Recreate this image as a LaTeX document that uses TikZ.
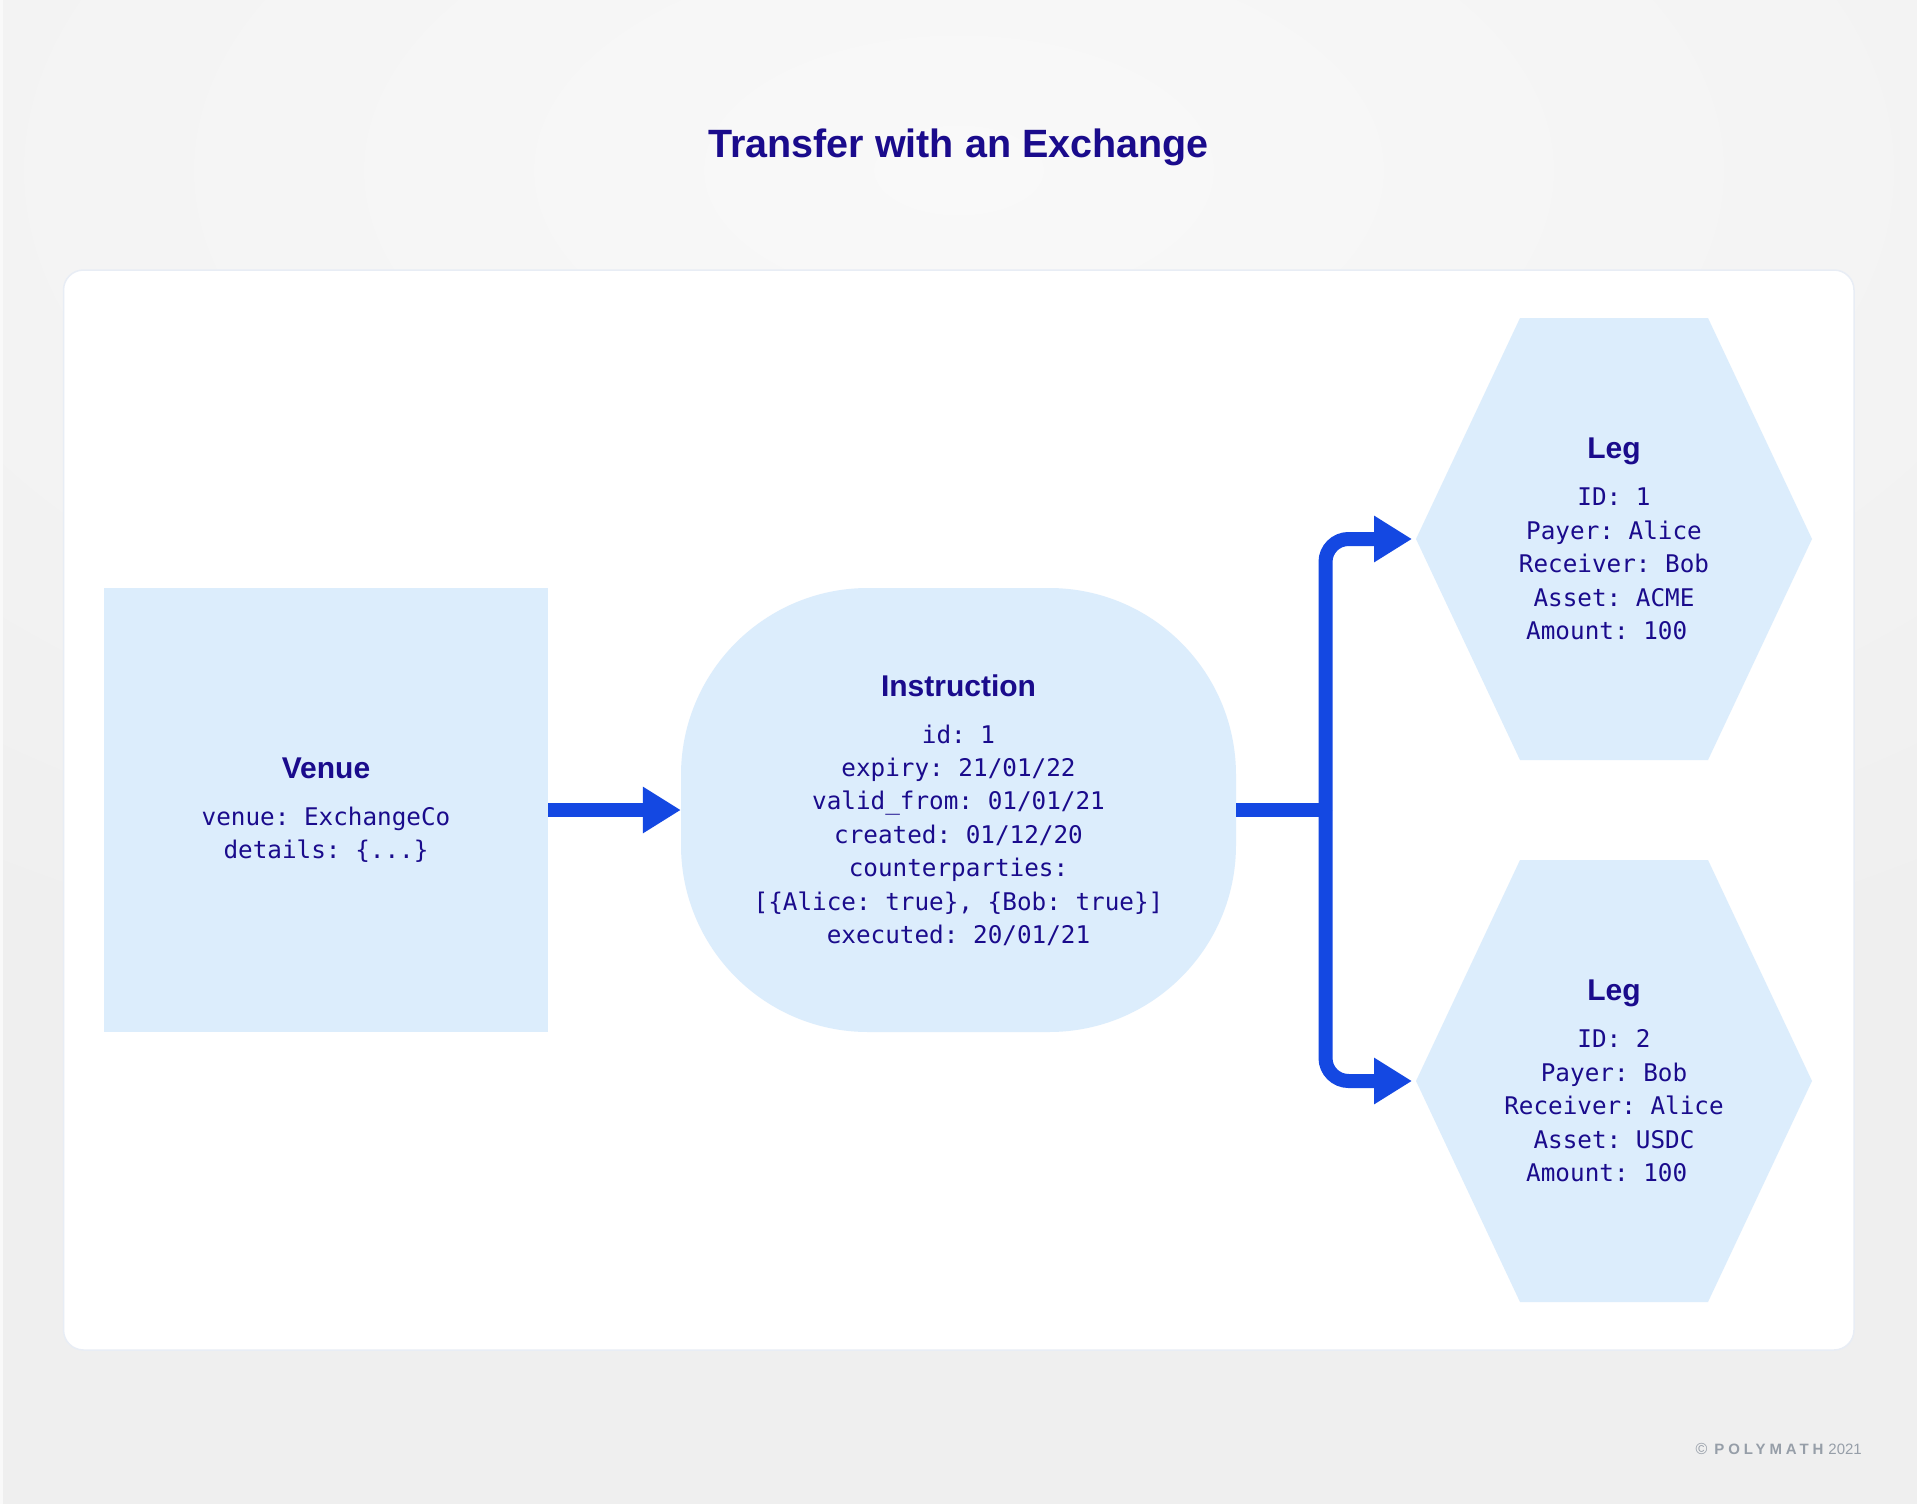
\documentclass[tikz,border=0pt]{standalone}
\usepackage{fontspec}
\setmainfont{Liberation Sans}
\setmonofont{DejaVu Sans Mono}
\usetikzlibrary{arrows.meta}

\definecolor{bggray}{RGB}{239,239,239}
\definecolor{bglight}{RGB}{249,249,249}
\definecolor{panelborder}{RGB}{232,237,245}
\definecolor{shapefill}{RGB}{220,237,252}
\definecolor{navy}{RGB}{26,11,140}
\definecolor{linkblue}{RGB}{20,72,226}
\definecolor{copygray}{RGB}{150,158,168}

\newcommand{\nodehead}[1]{{\rmfamily\bfseries\fontsize{30}{33.4}\selectfont #1}\\[13.6pt]}

\begin{document}
\begin{tikzpicture}[x=1pt,y=-1pt,
  body/.style={text=navy, align=center, inner sep=0pt,
    font=\ttfamily\fontsize{24.3}{33.4}\selectfont},
  box/.style={body, fill=shapefill, draw=none},
  hexfill/.style={fill=shapefill, draw=none},
  linkline/.style={draw=linkblue, line width=14pt},
  linkarrow/.style={linkline, -{Triangle[length=38pt,width=44pt]}},
]
\useasboundingbox (0,0) rectangle (1917,1504);

% background
\fill[bggray] (0,0) rectangle (1917,1504);
\begin{scope}
  \clip (0,0) rectangle (1917,1504);
  \shade[inner color=bglight, outer color=bggray] (958.5,170) ellipse [x radius=1700, y radius=900];
\end{scope}
\fill[bglight] (0,0) rectangle (2.5,1504);

% panel
\draw[fill=white, draw=panelborder, line width=1.5pt, rounded corners=20pt]
  (63.5,270) rectangle (1854,1350);

% title
\node[text=navy, font=\bfseries\fontsize{39.5}{47}\selectfont] (title) at (958.5,147) {Transfer with an Exchange};

% venue
\node[box, minimum width=444pt, minimum height=444pt] (venue) at (326,810)
  {\nodehead{Venue}venue: ExchangeCo\\details: \{...\}};

% instruction
\node[box, minimum width=555pt, minimum height=444pt, rounded corners=187pt] (instr) at (958.5,810)
  {\nodehead{Instruction}id: 1\\expiry: 21/01/22\\valid\_from: 01/01/21\\created: 01/12/20\\counterparties:\\{}[\{Alice: true\}, \{Bob: true\}]\\executed: 20/01/21};

% legs (hexagons)
\fill[hexfill] (1614,539) ++(-94,-221) -- ++(188,0) -- ++(104,221) -- ++(-104,221) -- ++(-188,0) -- ++(-104,-221) -- cycle;
\fill[hexfill] (1614,1081) ++(-94,-221) -- ++(188,0) -- ++(104,221) -- ++(-104,221) -- ++(-188,0) -- ++(-104,-221) -- cycle;
\node[body] (leg1) at (1614,539)
  {\nodehead{Leg}ID: 1\\Payer: Alice\\Receiver: Bob\\Asset: ACME\\Amount: 100\hphantom{0}};
\node[body] (leg2) at (1614,1081)
  {\nodehead{Leg}ID: 2\\Payer: Bob\\Receiver: Alice\\Asset: USDC\\Amount: 100\hphantom{0}};
\coordinate (leg1in) at (1412,539);
\coordinate (leg2in) at (1412,1081);

% connectors
\coordinate (split) at (1325.5,810);
\draw[linkarrow] (venue.east) -- (instr.west);
\draw[linkline] (instr.east) -- (split);
\draw[linkarrow, rounded corners=23pt] (split) |- (leg1in);
\draw[linkarrow, rounded corners=23pt] (split) |- (leg2in);

% copyright
\node[anchor=east, text=copygray, inner sep=0pt, font=\fontsize{15}{17}\selectfont] (copy) at (1862,1449)
  {{\fontsize{16}{17}\selectfont ©}\hspace{7pt}{\bfseries\addfontfeatures{LetterSpace=26}POLYMATH}\hspace{5pt}2021};
\end{tikzpicture}
\end{document}
